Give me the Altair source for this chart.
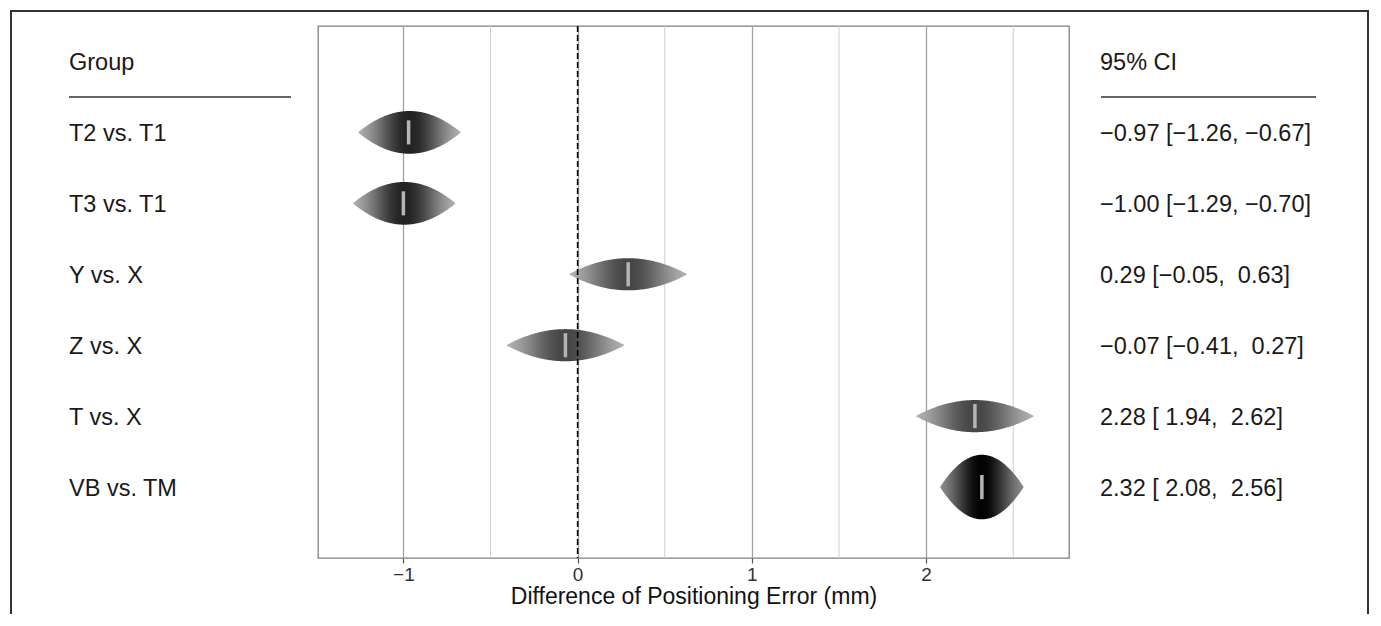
import altair as alt
import pandas as pd
import numpy as np

# ---------------- data ----------------
groups = ["T2 vs. T1", "T3 vs. T1", "Y vs. X", "Z vs. X", "T vs. X", "VB vs. TM"]
means = [-0.97, -1.00, 0.29, -0.07, 2.28, 2.32]
lowers = [-1.26, -1.29, -0.05, -0.41, 1.94, 2.08]
uppers = [-0.67, -0.70, 0.63, 0.27, 2.62, 2.56]
x_ticks = [-1, 0, 1, 2]
minor_grid = [-0.5, 0.5, 1.5, 2.5]
ref_line = [0]
header_left = "Group"
header_right = "95% CI"
x_title = "Difference of Positioning Error (mm)"

# ---------------- styles ----------------
center_gray = [34, 34, 70, 70, 70, 2]
edge_gray = [176, 176, 178, 178, 178, 140]
FONT = "Liberation Sans"
W_LEFT, W_MID, W_RIGHT, H = 309, 751, 301, 532
BORDER = "#333333"
TXT = 23.5
TICK_FS = 19

xs = alt.Scale(domain=[-1.49, 2.82], nice=False, zero=False)
ys = alt.Scale(domain=[-0.5, 7.0], reverse=True, nice=False, zero=False)


def fmt(v):
    return ("\u2212" if v < 0 else "\u00a0") + f"{abs(v):.2f}"


ci_labels = [f"{fmt(m)} [{fmt(l)}, {fmt(u)}]" for m, l, u in zip(means, lowers, uppers)]

# raindrop shapes: log-likelihood (parabola) over the 95% CI, scaled by weight
se = [(u - l) / 3.92 for l, u in zip(lowers, uppers)]
wts = [1 / s ** 2 for s in se]
wmax = max(wts)
HALF = 0.455
eye_rows = []
for i, (l, u, s, w) in enumerate(zip(lowers, uppers, se, wts)):
    mid = (l + u) / 2
    for xv in np.linspace(l, u, 161):
        z = (xv - mid) / s
        hh = HALF * (w / wmax) * max(0.0, 1 - (z / 1.96) ** 2)
        eye_rows.append({"row": i + 1, "x": float(xv), "ylo": i + 1 - hh, "yhi": i + 1 + hh})
eye_df = pd.DataFrame(eye_rows)

tick_df = pd.DataFrame({
    "row": list(range(1, len(groups) + 1)),
    "mean": means,
})
tick_df["lo"] = tick_df["row"] - 0.17
tick_df["hi"] = tick_df["row"] + 0.17


def gradient(c, e):
    zmax = 1.96
    dmin = np.exp(-0.5 * zmax ** 2)
    stops = []
    for k in range(21):
        off = k / 20
        z = (off - 0.5) / 0.5 * zmax
        t = (np.exp(-0.5 * z * z) - dmin) / (1 - dmin)
        g = int(round(e + (c - e) * t))
        stops.append(alt.GradientStop(offset=off, color=f"#{g:02x}{g:02x}{g:02x}"))
    return alt.Gradient(gradient="linear", stops=stops, x1=0, x2=1, y1=0, y2=0)


one = pd.DataFrame({"k": [0]})


def top_border(x0, x1):
    return alt.Chart(one).mark_rule(color=BORDER, strokeWidth=2).encode(
        x=alt.value(x0), x2=alt.value(x1), y=alt.value(-15))


def side_border(xv):
    return alt.Chart(one).mark_rule(color=BORDER, strokeWidth=2).encode(
        x=alt.value(xv), y=alt.value(-16), y2=alt.value(588))


# ---------------- middle panel ----------------
axis = alt.Axis(values=x_ticks, format="d", grid=True, gridColor="#a0a0a0", gridWidth=1.3,
                domain=False, ticks=True, tickColor="#555555", tickSize=5, tickWidth=1.2,
                labelFontSize=TICK_FS, labelColor="#333333", labelPadding=2,
                title=x_title, titleFontSize=23, titleFontWeight="normal",
                titleColor="#111111", titlePadding=1)

minor = alt.Chart(pd.DataFrame({"v": minor_grid})).mark_rule(
    color="#cfcfcf", strokeWidth=1).encode(x=alt.X("v:Q", scale=xs, axis=axis))

eyes = []
for i in range(len(groups)):
    eyes.append(
        alt.Chart(eye_df).transform_filter(alt.datum.row == i + 1).mark_area(
            orient="vertical", color=gradient(center_gray[i], edge_gray[i])
        ).encode(
            x=alt.X("x:Q", scale=xs, axis=axis),
            y=alt.Y("ylo:Q", scale=ys, axis=None),
            y2="yhi:Q",
        )
    )

zero = alt.Chart(pd.DataFrame({"v": ref_line})).mark_rule(
    color="black", strokeDash=[6, 3], strokeWidth=1.6).encode(
    x=alt.X("v:Q", scale=xs, axis=axis))

ticks = alt.Chart(tick_df).mark_rule(color="#b5b5b5", strokeWidth=3.5).encode(
    x=alt.X("mean:Q", scale=xs, axis=axis),
    y=alt.Y("lo:Q", scale=ys, axis=None),
    y2="hi:Q",
)

middle = alt.layer(minor, *eyes, zero, ticks, top_border(0, W_MID)).properties(
    width=W_MID, height=H,
    view=alt.ViewBackground(stroke="#808080", strokeWidth=1.3),
)

# ---------------- left column ----------------
left_df = pd.DataFrame({"row": list(range(0, len(groups) + 1)),
                        "label": [header_left] + groups})
left_text = alt.Chart(left_df).mark_text(
    align="left", baseline="middle", fontSize=TXT, color="#1a1a1a", dy=1.5).encode(
    x=alt.value(60), y=alt.Y("row:Q", scale=ys, axis=None), text="label:N")
left_rule = alt.Chart(pd.DataFrame({"r": [0.5]})).mark_rule(
    color="#333333", strokeWidth=1.5).encode(
    x=alt.value(60), x2=alt.value(282), y=alt.Y("r:Q", scale=ys, axis=None))
left = alt.layer(left_text, left_rule, top_border(2, W_LEFT), side_border(2)).properties(
    width=W_LEFT, height=H)

# ---------------- right column ----------------
right_df = pd.DataFrame({"row": list(range(0, len(groups) + 1)),
                         "label": [header_right] + ci_labels})
right_text = alt.Chart(right_df).mark_text(
    align="left", baseline="middle", fontSize=TXT, color="#1a1a1a", dy=1.5).encode(
    x=alt.value(31), y=alt.Y("row:Q", scale=ys, axis=None), text="label:N")
right_rule = alt.Chart(pd.DataFrame({"r": [0.5]})).mark_rule(
    color="#333333", strokeWidth=1.5).encode(
    x=alt.value(32), x2=alt.value(247), y=alt.Y("r:Q", scale=ys, axis=None))
right = alt.layer(right_text, right_rule, top_border(0, W_RIGHT - 2), side_border(W_RIGHT - 2)).properties(
    width=W_RIGHT, height=H)

chart = alt.hconcat(left, middle, right, spacing=0, bounds="flush").properties(
    padding={"left": 0, "top": 0, "right": 0, "bottom": 0}
).configure(font=FONT).configure_view(stroke="transparent").configure_axis(
    labelFontSize=TICK_FS, labelFont=FONT, titleFont=FONT)

chart.save("out.html", embed_options={"renderer": "svg", "actions": False})
